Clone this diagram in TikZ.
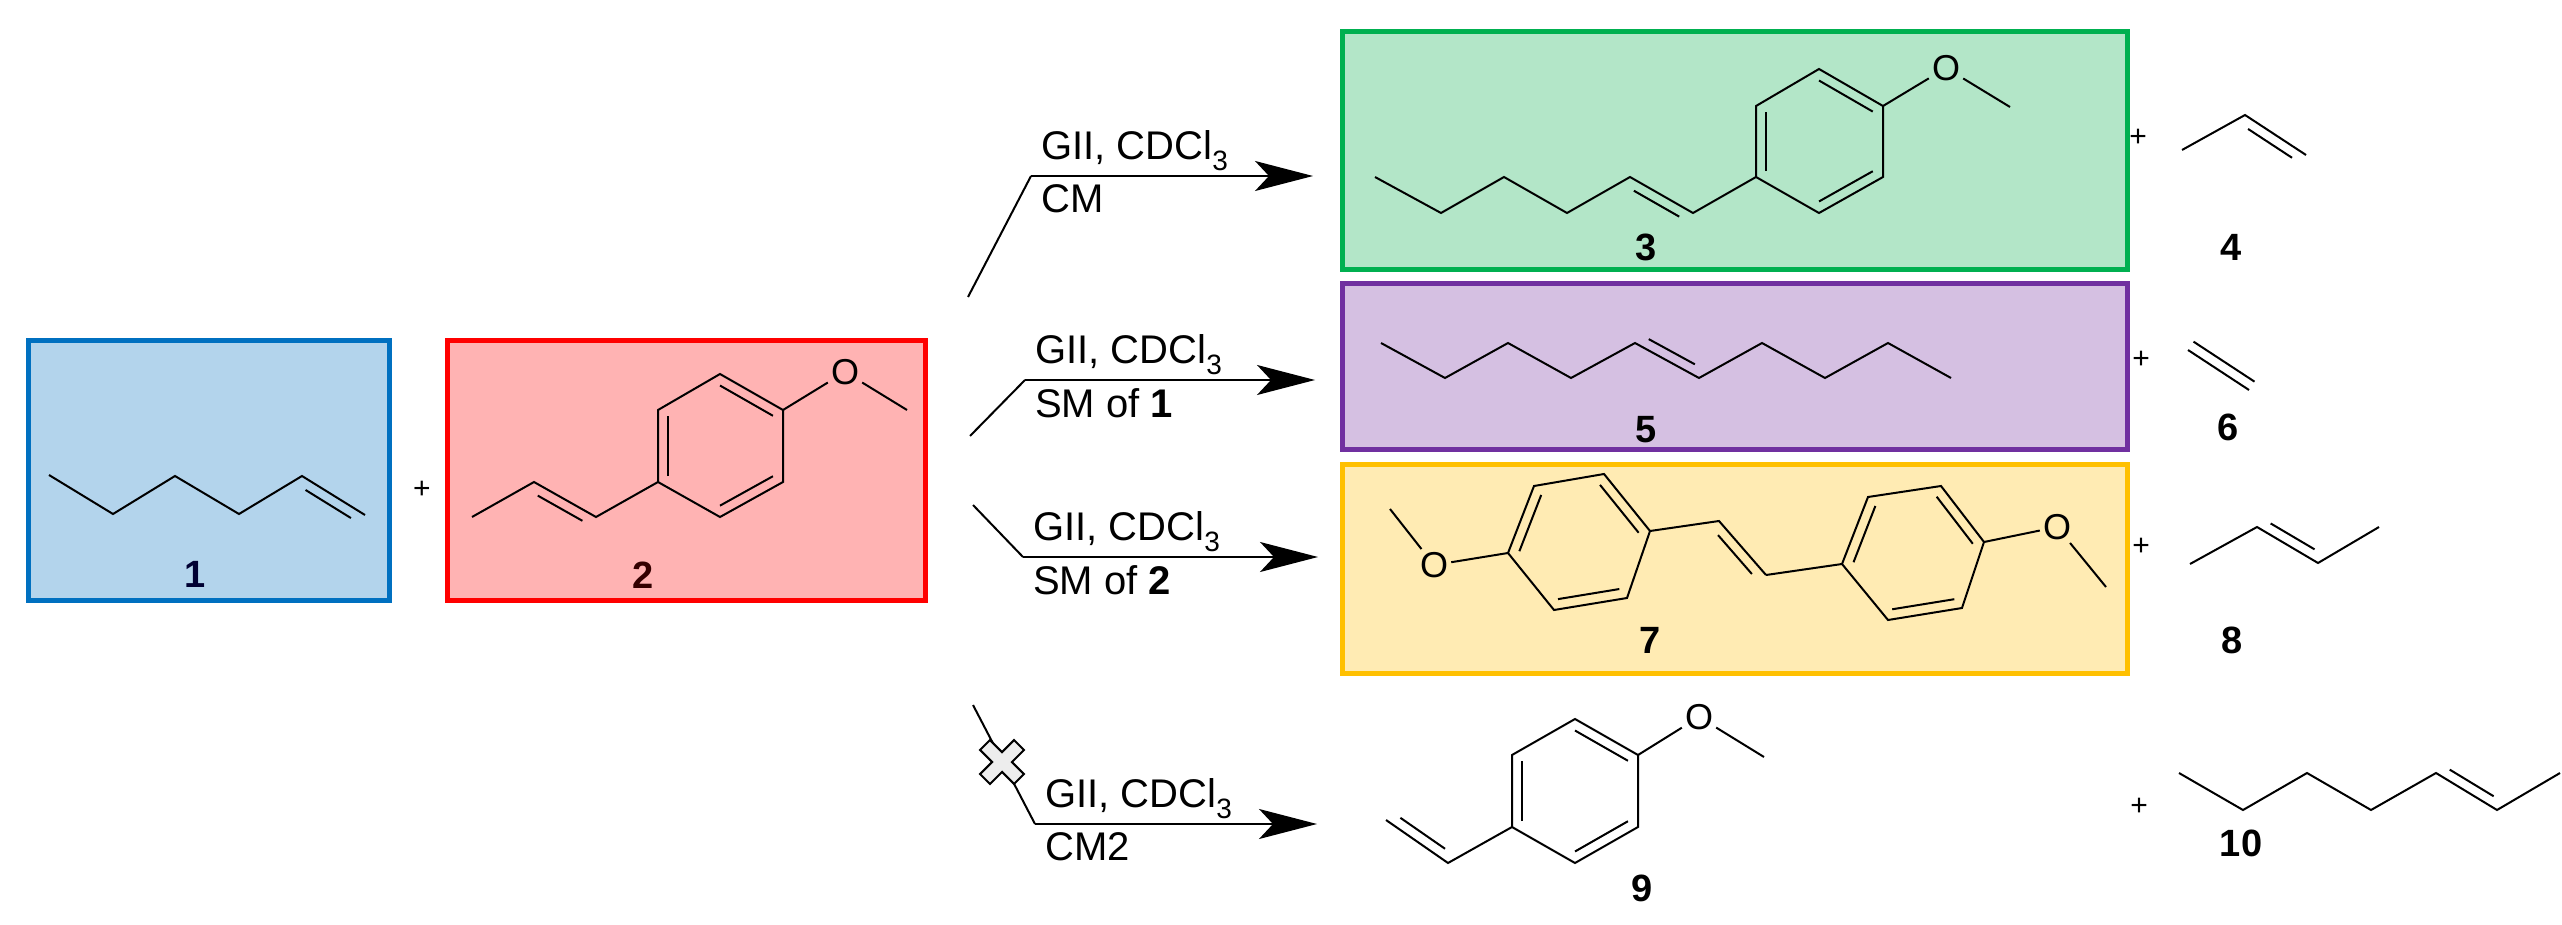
\documentclass[tikz,border=0pt]{standalone}
\usepackage{fontspec}
\setmainfont{Liberation Sans}
\usetikzlibrary{calc,arrows.meta}
\definecolor{bfill}{HTML}{B3D4EC}\definecolor{bdraw}{HTML}{0070C0}
\definecolor{rfill}{HTML}{FFB3B3}\definecolor{rdraw}{HTML}{FF0000}
\definecolor{gfill}{HTML}{B3E6C8}\definecolor{gdraw}{HTML}{00B050}
\definecolor{pfill}{HTML}{D5C0E2}\definecolor{pdraw}{HTML}{7030A0}
\definecolor{yfill}{HTML}{FFEBB3}\definecolor{ydraw}{HTML}{FFC000}
\newcommand{\rdbl}[3]{\draw[bond] ($(#1)!0.16!(#3)$) -- ($(#2)!0.16!(#3)$);}
\newcommand{\cdbl}[3]{\draw[bond] ($(#1)!0.14!(#2)!10pt!#3:(#2)$) -- ($(#2)!0.14!(#1)!10pt!-#3:(#1)$);}
\begin{document}
\begin{tikzpicture}[x=1pt,y=-1pt,
  bond/.style={line width=2pt,line join=miter},
  cbox/.style={line width=5pt},
  rxn/.style={line width=2pt},
  rxnarrow/.style={line width=2pt,-{Stealth[length=58pt,width=30pt,inset=14pt]}},
  cond/.style={font=\fontsize{40}{44}\selectfont,inner sep=0pt},
  clabel/.style={font=\bfseries\fontsize{38}{40}\selectfont,inner sep=0pt},
  plus/.style={font=\fontsize{30}{32}\selectfont,inner sep=0pt},
  atom/.style={font=\fontsize{36}{38}\selectfont,inner sep=3pt}]
\useasboundingbox (0,0) rectangle (2562,925);
% boxes
\draw[cbox,draw=bdraw,fill=bfill] (28,340) rectangle (389,600);
\draw[cbox,draw=rdraw,fill=rfill] (447,340) rectangle (925,600);
\draw[cbox,draw=gdraw,fill=gfill] (1342,32) rectangle (2127,270);
\draw[cbox,draw=pdraw,fill=pfill] (1342,284) rectangle (2127,449);
\draw[cbox,draw=ydraw,fill=yfill] (1342,464) rectangle (2127,673);
% compound 1
\coordinate (a1) at (49,475);\coordinate (a2) at (113,514);\coordinate (a3) at (175,476);
\coordinate (a4) at (239,514);\coordinate (a5) at (302,476);\coordinate (a6) at (365,515);
\draw[bond] (a1)--(a2)--(a3)--(a4)--(a5)--(a6);
\cdbl{a5}{a6}{-90}
\node[clabel,text=black!80!blue] (l1) at (195,574) {1};
\node[plus] (p12) at (422,490) {+};
% compound 2
\coordinate (b1) at (720,517);\coordinate (b2) at (658,482);\coordinate (b3) at (658,410);
\coordinate (b4) at (720,374);\coordinate (b5) at (783,410);\coordinate (b6) at (783,482);
\coordinate (bc) at (720,446);
\draw[bond] (b1)--(b2)--(b3)--(b4)--(b5)--(b6)--cycle;
\rdbl{b2}{b3}{bc}\rdbl{b4}{b5}{bc}\rdbl{b6}{b1}{bc}
\node[atom] (bo) at (845,372) {O};
\coordinate (bm) at (907,410);
\draw[bond] (b5)--(bo)--(bm);
\coordinate (b7) at (596,517);\coordinate (b8) at (534,482);\coordinate (b9) at (472,517);
\draw[bond] (b2)--(b7)--(b8)--(b9);
\cdbl{b7}{b8}{90}
\node[clabel,text=black!80!red] (l2) at (643,575) {2};
% arrows
\coordinate (s1) at (968,297);\coordinate (c1) at (1031,176);\coordinate (t1) at (1313,176);
\coordinate (s2) at (970,436);\coordinate (c2) at (1025,380);\coordinate (t2) at (1315,380);
\coordinate (s3) at (973,505);\coordinate (c3) at (1023,557);\coordinate (t3) at (1318,557);
\coordinate (s4) at (973,705);\coordinate (c4) at (1035,824);\coordinate (t4) at (1317,824);
\draw[rxn] (s1)--(c1); \draw[rxnarrow] (c1)--(t1);
\draw[rxn] (s2)--(c2); \draw[rxnarrow] (c2)--(t2);
\draw[rxn] (s3)--(c3); \draw[rxnarrow] (c3)--(t3);
\draw[rxn] (s4)--(c4); \draw[rxnarrow] (c4)--(t4);
\node[cond,anchor=south west] (g1) at ($(c1)+(10,-5)$) {GII, CDCl\textsubscript{3}};
\node[cond,anchor=north west] (m1) at ($(c1)+(10,8)$) {CM};
\node[cond,anchor=south west] (g2) at ($(c2)+(10,-5)$) {GII, CDCl\textsubscript{3}};
\node[cond,anchor=north west] (m2) at ($(c2)+(10,8)$) {SM of \textbf{1}};
\node[cond,anchor=south west] (g3) at ($(c3)+(10,-5)$) {GII, CDCl\textsubscript{3}};
\node[cond,anchor=north west] (m3) at ($(c3)+(10,8)$) {SM of \textbf{2}};
\node[cond,anchor=south west] (g4) at ($(c4)+(10,-5)$) {GII, CDCl\textsubscript{3}};
\node[cond,anchor=north west] (m4) at ($(c4)+(10,8)$) {CM2};
% cross
\coordinate (xc) at (1002,762);
\draw[line width=2pt,fill=black!7,rotate around={45:(xc)}] ($(xc)+(-7,-24)$) -- ++(14,0) -- ++(0,17) -- ++(17,0) -- ++(0,14) -- ++(-17,0) -- ++(0,17) -- ++(-14,0) -- ++(0,-17) -- ++(-17,0) -- ++(0,-14) -- ++(17,0) -- cycle;
% compound 3
\coordinate (d1) at (1375,177);\coordinate (d2) at (1441,213);\coordinate (d3) at (1504,177);
\coordinate (d4) at (1567,213);\coordinate (d5) at (1630,177);\coordinate (d6) at (1693,213);
\coordinate (e1) at (1756,177);\coordinate (e2) at (1756,106);\coordinate (e3) at (1819,69);
\coordinate (e4) at (1883,106);\coordinate (e5) at (1883,177);\coordinate (e6) at (1819,213);
\coordinate (ec) at (1819,141);
\draw[bond] (d1)--(d2)--(d3)--(d4)--(d5)--(d6)--(e1);
\cdbl{d5}{d6}{-90}
\draw[bond] (e1)--(e2)--(e3)--(e4)--(e5)--(e6)--cycle;
\rdbl{e1}{e2}{ec}\rdbl{e3}{e4}{ec}\rdbl{e5}{e6}{ec}
\node[atom] (eo) at (1946,68) {O};
\coordinate (em) at (2010,107);
\draw[bond] (e4)--(eo)--(em);
\node[clabel] (l3) at (1646,247) {3};
\node[plus] (p34) at (2138,138) {+};
\coordinate (f1) at (2182,150);\coordinate (f2) at (2245,115);\coordinate (f3) at (2306,155);
\draw[bond] (f1)--(f2)--(f3);
\cdbl{f2}{f3}{-90}
\node[clabel] (l4) at (2231,247) {4};
% compound 5
\foreach \i/\x/\y in {1/1381/343,2/1445/378,3/1508/343,4/1571/378,5/1635/343,6/1699/378,7/1762/343,8/1825/378,9/1888/343,10/1951/378}
  \coordinate (h\i) at (\x,\y);
\draw[bond] (h1)--(h2)--(h3)--(h4)--(h5)--(h6)--(h7)--(h8)--(h9)--(h10);
\cdbl{h5}{h6}{90}
\node[clabel] (l5) at (1646,430) {5};
\node[plus] (p56) at (2141,360) {+};
\coordinate (k1) at (2188,350);\coordinate (k2) at (2249,390);
\draw[bond] (k1)--(k2); \draw[bond] ($(k1)!10pt!90:(k2)$) -- ($(k2)!10pt!-90:(k1)$);
\node[clabel] (l6) at (2228,427) {6};
% compound 7
\coordinate (m1m) at (1390,509);
\node[atom] (o71) at (1434,565) {O};
\coordinate (r1) at (1508,553);\coordinate (r2) at (1534,486);\coordinate (r3) at (1604,474);
\coordinate (r4) at (1650,531);\coordinate (r5) at (1627,598);\coordinate (r6) at (1554,610);
\coordinate (rc) at (1579,542);
\draw[bond] (r1)--(r2)--(r3)--(r4)--(r5)--(r6)--cycle;
\rdbl{r1}{r2}{rc}\rdbl{r3}{r4}{rc}\rdbl{r5}{r6}{rc}
\draw[bond] (m1m)--(o71)--(r1);
\coordinate (v1) at (1719,521);\coordinate (v2) at (1766,575);
\draw[bond] (r4)--(v1)--(v2);
\cdbl{v1}{v2}{-90}
\coordinate (q1) at (1842,564);\coordinate (q2) at (1868,497);\coordinate (q3) at (1941,486);
\coordinate (q4) at (1984,542);\coordinate (q5) at (1962,608);\coordinate (q6) at (1888,620);
\coordinate (qc) at (1914,553);
\draw[bond] (v2)--(q1);
\draw[bond] (q1)--(q2)--(q3)--(q4)--(q5)--(q6)--cycle;
\rdbl{q1}{q2}{qc}\rdbl{q3}{q4}{qc}\rdbl{q5}{q6}{qc}
\node[atom] (o72) at (2057,527) {O};
\coordinate (m72) at (2106,587);
\draw[bond] (q4)--(o72)--(m72);
\node[clabel] (l7) at (1650,640) {7};
\node[plus] (p78) at (2141,547) {+};
\coordinate (n1) at (2190,564);\coordinate (n2) at (2257,527);\coordinate (n3) at (2318,563);\coordinate (n4) at (2379,527);
\draw[bond] (n1)--(n2)--(n3)--(n4);
\cdbl{n2}{n3}{90}
\node[clabel] (l8) at (2232,640) {8};
% compound 9
\coordinate (w1) at (1386,820);\coordinate (w2) at (1448,863);
\coordinate (u1) at (1512,827);\coordinate (u2) at (1512,755);\coordinate (u3) at (1575,719);
\coordinate (u4) at (1638,755);\coordinate (u5) at (1638,827);\coordinate (u6) at (1575,863);
\coordinate (uc) at (1575,791);
\draw[bond] (w1)--(w2)--(u1);
\cdbl{w1}{w2}{90}
\draw[bond] (u1)--(u2)--(u3)--(u4)--(u5)--(u6)--cycle;
\rdbl{u1}{u2}{uc}\rdbl{u3}{u4}{uc}\rdbl{u5}{u6}{uc}
\node[atom] (o9) at (1699,717) {O};
\coordinate (m9) at (1764,757);
\draw[bond] (u4)--(o9)--(m9);
\node[clabel] (l9) at (1642,888) {9};
\node[plus] (p910) at (2139,807) {+};
\foreach \i/\x/\y in {1/2179/773,2/2243/810,3/2307/773,4/2371/810,5/2436/773,6/2497/810,7/2560/773}
  \coordinate (z\i) at (\x,\y);
\draw[bond] (z1)--(z2)--(z3)--(z4)--(z5)--(z6)--(z7);
\cdbl{z5}{z6}{90}
\node[clabel] (l10) at (2241,843) {10};
\end{tikzpicture}
\end{document}
